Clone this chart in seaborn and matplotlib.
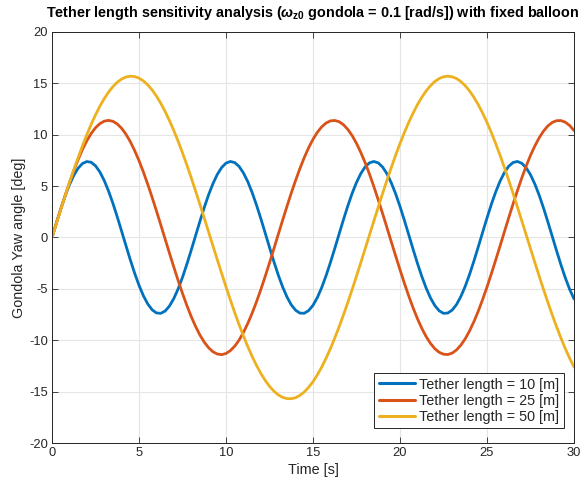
import numpy as np
import pandas as pd
import matplotlib
matplotlib.use("Agg")
import matplotlib.pyplot as plt
import seaborn as sns

# Time samples [s], every 0.25 s
time_s = [i * 0.25 for i in range(121)]

# Gondola yaw angle [deg] (8 values per row = 2 s)
yaw_10m = [
    0.00, 1.41, 2.76, 4.01, 5.12, 6.04, 6.74, 7.20,
    7.39, 7.32, 6.98, 6.38, 5.55, 4.52, 3.33, 2.01,
    0.62, -0.79, -2.17, -3.48, -4.65, -5.66, -6.46, -7.03,
    -7.34, -7.38, -7.16, -6.67, -5.94, -5.00, -3.87, -2.60,
    -1.24, 0.17, 1.57, 2.92, 4.16, 5.24, 6.14, 6.81,
    7.24, 7.40, 7.29, 6.92, 6.29, 5.44, 4.39, 3.17,
    1.85, 0.45, -0.96, -2.34, -3.63, -4.79, -5.77, -6.55,
    -7.08, -7.36, -7.37, -7.11, -6.60, -5.84, -4.87, -3.72,
    -2.44, -1.07, 0.34, 1.74, 3.07, 4.30, 5.36, 6.23,
    6.88, 7.27, 7.40, 7.26, 6.86, 6.20, 5.32, 4.25,
    3.02, 1.68, 0.28, -1.13, -2.50, -3.77, -4.91, -5.87,
    -6.62, -7.13, -7.38, -7.35, -7.06, -6.52, -5.73, -4.74,
    -3.58, -2.28, -0.90, 0.51, 1.90, 3.23, 4.43, 5.48,
    6.32, 6.94, 7.30, 7.40, 7.22, 6.79, 6.11, 5.20,
    4.11, 2.86, 1.51, 0.11, -1.30, -2.66, -3.92, -5.04,
    -5.98,
]
yaw_25m = [
    0.00, 1.38, 2.74, 4.06, 5.32, 6.50, 7.58, 8.56,
    9.41, 10.12, 10.68, 11.08, 11.32, 11.40, 11.31, 11.05,
    10.63, 10.05, 9.33, 8.46, 7.48, 6.38, 5.19, 3.93,
    2.60, 1.24, -0.14, -1.52, -2.87, -4.19, -5.44, -6.61,
    -7.69, -8.65, -9.49, -10.18, -10.73, -11.12, -11.34, -11.40,
    -11.29, -11.01, -10.58, -9.99, -9.25, -8.37, -7.37, -6.27,
    -5.07, -3.80, -2.47, -1.10, 0.28, 1.66, 3.01, 4.32,
    5.56, 6.72, 7.79, 8.74, 9.56, 10.24, 10.77, 11.14,
    11.35, 11.39, 11.27, 10.98, 10.52, 9.92, 9.16, 8.27,
    7.27, 6.15, 4.94, 3.66, 2.33, 0.96, -0.42, -1.79,
    -3.14, -4.44, -5.68, -6.84, -7.89, -8.83, -9.64, -10.30,
    -10.82, -11.17, -11.36, -11.39, -11.25, -10.94, -10.47, -9.85,
    -9.08, -8.18, -7.16, -6.03, -4.82, -3.53, -2.19, -0.83,
    0.56, 1.93, 3.28, 4.57, 5.80, 6.95, 7.99, 8.91,
    9.71, 10.36, 10.86, 11.20, 11.37, 11.38, 11.22, 10.90,
    10.41,
]
yaw_50m = [
    0.00, 1.35, 2.70, 4.02, 5.31, 6.57, 7.77, 8.92,
    10.00, 11.01, 11.93, 12.77, 13.51, 14.15, 14.68, 15.11,
    15.42, 15.62, 15.70, 15.66, 15.51, 15.24, 14.86, 14.37,
    13.77, 13.07, 12.27, 11.38, 10.41, 9.36, 8.24, 7.06,
    5.82, 4.54, 3.23, 1.89, 0.54, -0.81, -2.16, -3.49,
    -4.80, -6.07, -7.30, -8.47, -9.57, -10.61, -11.57, -12.44,
    -13.22, -13.90, -14.48, -14.95, -15.31, -15.55, -15.68, -15.69,
    -15.59, -15.36, -15.03, -14.58, -14.03, -13.37, -12.61, -11.75,
    -10.81, -9.79, -8.69, -7.54, -6.32, -5.06, -3.76, -2.43,
    -1.08, 0.27, 1.62, 2.96, 4.28, 5.57, 6.81, 8.01,
    9.14, 10.21, 11.20, 12.10, 12.92, 13.64, 14.26, 14.77,
    15.18, 15.47, 15.64, 15.70, 15.64, 15.47, 15.18, 14.77,
    14.26, 13.64, 12.92, 12.10, 11.20, 10.21, 9.14, 8.01,
    6.81, 5.57, 4.28, 2.96, 1.62, 0.27, -1.08, -2.43,
    -3.76, -5.06, -6.32, -7.54, -8.69, -9.79, -10.81, -11.75,
    -12.61,
]

series_labels = ["Tether length = 10 [m]", "Tether length = 25 [m]", "Tether length = 50 [m]"]
series_colors = ["#0072BD", "#D95319", "#EDB120"]
x_ticks = [0, 5, 10, 15, 20, 25, 30]
y_ticks = [-20, -15, -10, -5, 0, 5, 10, 15, 20]

df = pd.concat([
    pd.DataFrame({"t": time_s, "yaw": yaw_10m, "series": series_labels[0]}),
    pd.DataFrame({"t": time_s, "yaw": yaw_25m, "series": series_labels[1]}),
    pd.DataFrame({"t": time_s, "yaw": yaw_50m, "series": series_labels[2]}),
], ignore_index=True)

sns.set_theme(style="whitegrid")
plt.rcParams["font.family"] = ["Liberation Sans", "DejaVu Sans"]
plt.rcParams["axes.unicode_minus"] = False
plt.rcParams["mathtext.fontset"] = "custom"
plt.rcParams["mathtext.rm"] = "Liberation Sans:bold"
plt.rcParams["mathtext.bf"] = "Liberation Sans:bold"
plt.rcParams["mathtext.it"] = "Liberation Sans:italic:bold"

fig = plt.figure(figsize=(5.81, 4.86), dpi=100)
ax = fig.add_axes([52 / 581, 1 - 443 / 486, (574 - 52) / 581, (443 - 32) / 486])

sns.lineplot(data=df, x="t", y="yaw", hue="series", palette=series_colors,
             hue_order=series_labels, linewidth=2.0, ax=ax, legend=True)

ax.set_xlim(0, 30)
ax.set_ylim(-20, 20)
ax.set_xticks(x_ticks)
ax.set_yticks(y_ticks)
ax.set_xticklabels([str(v) for v in x_ticks])
ax.set_yticklabels([str(v) for v in y_ticks])

ax.set_facecolor("white")
ax.grid(True, color="#e5e5e5", linewidth=0.8)
for sp in ax.spines.values():
    sp.set_visible(True)
    sp.set_color("#262626")
    sp.set_linewidth(0.7)
ax.tick_params(axis="both", which="both", direction="in", length=4, width=0.6,
               color="#262626", labelcolor="#262626", labelsize=9.3,
               top=True, right=True, bottom=True, left=True, pad=3)

ax.set_xlabel("Time [s]", fontsize=10.4, color="#262626", labelpad=3)
ax.set_ylabel("Gondola Yaw angle [deg]", fontsize=10.4, color="#262626", labelpad=2)
ax.set_title(r"Tether length sensitivity analysis ($\omega_{\mathbf{z0}}$ gondola = 0.1 [rad/s]) with fixed balloon",
             fontsize=10.4, fontweight="bold", color="black", pad=11)

leg = ax.legend(loc="lower right", bbox_to_anchor=(0.98, 0.036), fontsize=10.4,
                frameon=True, fancybox=False, edgecolor="#262626", framealpha=1,
                handlelength=2.5, handletextpad=0.3, borderpad=0.3, labelspacing=0.15,
                borderaxespad=0)
leg.get_frame().set_linewidth(0.7)
for line in leg.get_lines():
    line.set_linewidth(2.2)

fig.savefig("out.png", dpi=100)
